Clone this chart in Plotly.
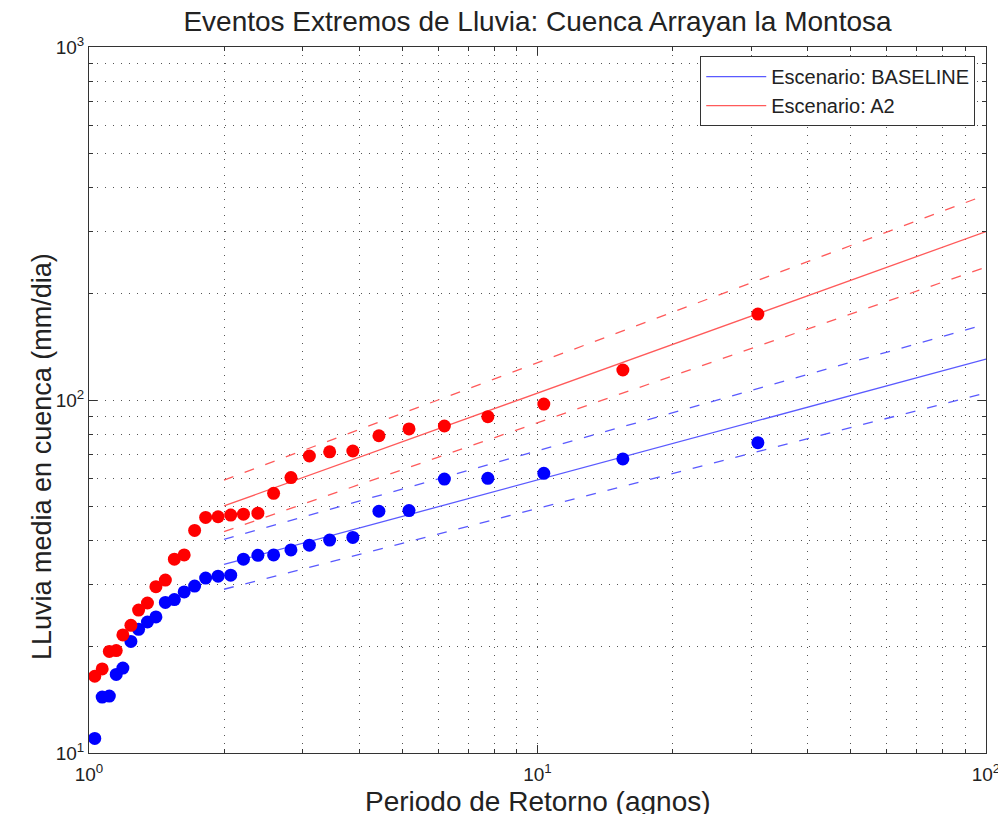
import plotly.graph_objects as go

# Periodo de retorno (años) de cada evento ordenado
periodo = [31.0, 15.5, 10.33, 7.75, 6.2, 5.17, 4.43, 3.875, 3.44, 3.1,
           2.82, 2.58, 2.38, 2.21, 2.07, 1.94, 1.82, 1.72, 1.63, 1.55,
           1.48, 1.41, 1.35, 1.29, 1.24, 1.19, 1.15, 1.11, 1.07, 1.03]

# Lluvia media en cuenca (mm/dia) por escenario
lluvia_baseline = [75.7, 68.1, 62.0, 60.0, 59.7, 48.6, 48.4, 40.8, 40.1, 38.8,
                   37.6, 36.4, 36.3, 35.4, 31.9, 31.7, 31.3, 29.7, 28.6, 27.2,
                   26.7, 24.3, 23.5, 22.4, 20.7, 17.4, 16.7, 14.5, 14.4, 11.0]
lluvia_a2 = [175.2, 121.6, 97.4, 89.7, 84.4, 82.8, 79.2, 71.7, 71.3, 69.4,
             60.3, 54.4, 47.8, 47.5, 47.2, 46.7, 46.5, 42.7, 36.4, 35.4,
             30.9, 29.6, 26.6, 25.4, 23.0, 21.6, 19.5, 19.4, 17.3, 16.5]

# Ajuste y bandas de confianza (extremos del tramo)
ajuste_x = [2, 100]
baseline_ajuste = [34.2, 130.6]
baseline_sup = [40.3, 164.0]
baseline_inf = [29.1, 104.8]
a2_ajuste = [50.1, 300.0]
a2_sup = [59.3, 381.0]
a2_inf = [42.4, 238.0]

# Ticks
x_ticks = [1, 10, 100]
x_ticktext = ["10<sup>0</sup>", "10<sup>1</sup>", "10<sup>2</sup>"]
y_ticks = [10, 100, 1000]
y_ticktext = ["10<sup>1</sup>", "10<sup>2</sup>", "10<sup>3</sup>"]
x_minor = [m * 10 ** k for k in (0, 1) for m in range(2, 10)]
y_minor = [m * 10 ** k for k in (1, 2) for m in range(2, 10)]

AZUL = "#0000ff"
ROJO = "#ff0000"
AZUL_LINEA = "#5a5aff"
ROJO_LINEA = "#ff5a5a"
DASH = "10px,12px"

fig = go.Figure()

# Lineas de ajuste (leyenda) y bandas
fig.add_trace(go.Scatter(x=ajuste_x, y=baseline_ajuste, mode="lines",
                         line=dict(color=AZUL_LINEA, width=1.3),
                         name="Escenario: BASELINE"))
fig.add_trace(go.Scatter(x=ajuste_x, y=a2_ajuste, mode="lines",
                         line=dict(color=ROJO_LINEA, width=1.3),
                         name="Escenario: A2"))
for ys, col in [(baseline_sup, AZUL_LINEA), (baseline_inf, AZUL_LINEA),
                (a2_sup, ROJO_LINEA), (a2_inf, ROJO_LINEA)]:
    fig.add_trace(go.Scatter(x=ajuste_x, y=ys, mode="lines",
                             line=dict(color=col, width=1.3, dash=DASH),
                             showlegend=False, hoverinfo="skip"))

# Eventos observados
fig.add_trace(go.Scatter(x=periodo, y=lluvia_baseline, mode="markers",
                         marker=dict(color=AZUL, size=13, line=dict(width=0)),
                         showlegend=False))
fig.add_trace(go.Scatter(x=periodo, y=lluvia_a2, mode="markers",
                         marker=dict(color=ROJO, size=13, line=dict(width=0)),
                         showlegend=False))

grid_col = "#555555"
grid_dash = "1px,7px"
fuente = "Liberation Sans, Arial, sans-serif"
texto = "#222222"

eje_comun = dict(
    type="log", showline=True, linecolor="#333333", linewidth=1, mirror="ticks",
    ticks="inside", ticklen=8, tickcolor="#333333", tickwidth=1,
    showgrid=True, gridcolor=grid_col, griddash=grid_dash, gridwidth=1,
    zeroline=False, tickfont=dict(family=fuente, size=19, color=texto),
    ticklabeloverflow="allow",
)

fig.update_xaxes(
    **eje_comun, range=[0, 2], tickmode="array", tickvals=x_ticks, ticktext=x_ticktext,
    ticklabelstandoff=4,
    minor=dict(tickvals=x_minor, ticks="inside", ticklen=4, tickcolor="#333333",
               showgrid=True, gridcolor=grid_col, griddash=grid_dash, gridwidth=1),
)
fig.update_yaxes(
    **eje_comun, range=[1, 3], tickmode="array", tickvals=y_ticks, ticktext=y_ticktext,
    minor=dict(tickvals=y_minor, ticks="inside", ticklen=4, tickcolor="#333333",
               showgrid=True, gridcolor=grid_col, griddash=grid_dash, gridwidth=1),
)

# Titulos de ejes colocados como anotaciones
fig.add_annotation(text="Periodo de Retorno (agnos)", xref="paper", yref="paper",
                   x=0.5, y=(753 - 801) / 706, xanchor="center", yanchor="middle",
                   showarrow=False, font=dict(family=fuente, size=28, color=texto))
fig.add_annotation(text="LLuvia media en cuenca (mm/dia)", xref="paper", yref="paper",
                   x=(42 - 89) / 897, y=(753 - 457) / 706, xanchor="center", yanchor="middle",
                   textangle=-90, showarrow=False,
                   font=dict(family=fuente, size=27, color=texto))

fig.update_layout(
    width=998, height=814,
    margin=dict(l=89, r=12, t=47, b=61, autoexpand=False),
    paper_bgcolor="white", plot_bgcolor="white",
    title=dict(text="Eventos Extremos de Lluvia: Cuenca Arrayan la Montosa",
               x=537.5 / 998, xanchor="center", y=1 - 21 / 814, yanchor="middle",
               font=dict(family=fuente, size=28, color=texto)),
    legend=dict(x=0.988, y=0.987, xanchor="right", yanchor="top",
                bgcolor="white", bordercolor="#333333", borderwidth=1,
                font=dict(family=fuente, size=20, color=texto),
                tracegroupgap=0, itemwidth=60),
    showlegend=True,
)

fig.write_html("out.html")
